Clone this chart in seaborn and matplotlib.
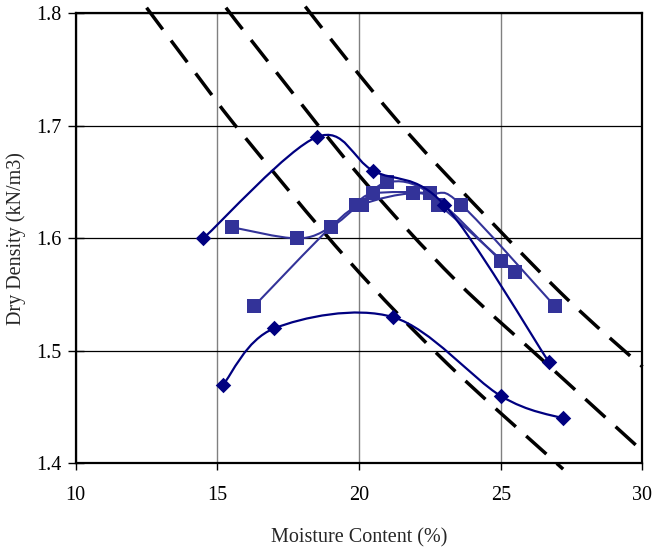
import numpy as np
import matplotlib
matplotlib.use('Agg')
import matplotlib.pyplot as plt
import seaborn as sns
from matplotlib.path import Path
from matplotlib.patches import PathPatch

# Verdichtingsproeven (diamanten, donkerblauw)
d1_w = [14.5, 18.5, 20.5, 23.0, 26.7]
d1_rho = [1.60, 1.69, 1.66, 1.63, 1.49]
d2_w = [15.2, 17.0, 21.2, 25.0, 27.2]
d2_rho = [1.47, 1.52, 1.53, 1.46, 1.44]

# Verdichtingsproeven (vierkanten)
s1_w = [15.5, 17.8, 19.0, 20.0, 21.0, 22.5, 25.0]
s1_rho = [1.61, 1.60, 1.61, 1.63, 1.65, 1.64, 1.58]
s2_w = [16.3, 19.0, 20.1, 21.9, 22.8, 25.5]
s2_rho = [1.54, 1.61, 1.63, 1.64, 1.63, 1.57]
s3_w = [19.9, 20.5, 22.5, 23.6, 26.9]
s3_rho = [1.63, 1.64, 1.64, 1.63, 1.54]

za_w = [12.5, 14.4, 15.9, 19.6, 23.1, 27.2]
za_rho = [1.805, 1.741, 1.692, 1.581, 1.489, 1.395]
zb_w = [15.3, 16.6, 20.0, 23.4, 26.6, 30.0]
zb_rho = [1.805, 1.763, 1.656, 1.563, 1.489, 1.411]
zc_w = [18.1, 19.6, 21.3, 23.1, 27.1, 30.0]
zc_rho = [1.806, 1.758, 1.706, 1.656, 1.552, 1.486]

x_ticks = [10, 15, 20, 25, 30]
y_ticks = [1.4, 1.5, 1.6, 1.7, 1.8]


def glad_pad(x, y):
    """Bouwt een vloeiend Bezier-pad door de punten (zoals Excel)."""
    p = np.column_stack([x, y]).astype(float)
    verts = [p[0]]
    codes = [Path.MOVETO]
    n = len(p)
    for i in range(n - 1):
        p0 = p[i - 1] if i > 0 else p[i]
        p3 = p[i + 2] if i + 2 < n else p[i + 1]
        c1 = p[i] + (p[i + 1] - p0) / 6
        c2 = p[i + 1] - (p3 - p[i]) / 6
        verts += [c1, c2, p[i + 1]]
        codes += [Path.CURVE4] * 3
    return Path(verts, codes)


sns.set_style('white')
plt.rcParams['font.family'] = ['Liberation Serif', 'DejaVu Serif']

fig = plt.figure(figsize=(6.54, 5.48), dpi=100)
ax = fig.add_axes([0.1158, 0.1542, 0.8666, 0.8215])

for w, r in [(za_w, za_rho), (zb_w, zb_rho), (zc_w, zc_rho)]:
    ax.add_patch(PathPatch(glad_pad(w, r), fill=False, edgecolor='black',
                           linewidth=2.5, linestyle=(0, (7.8, 4)),
                           capstyle='butt', clip_on=False, zorder=2))

navy = '#000080'
paars = '#333399'
for w, r in [(s1_w, s1_rho), (s2_w, s2_rho), (s3_w, s3_rho)]:
    ax.add_patch(PathPatch(glad_pad(w, r), fill=False, edgecolor=paars,
                           linewidth=1.5, zorder=3))
    sns.scatterplot(x=w, y=r, marker='s', s=92, color=paars,
                    edgecolor=paars, linewidth=0, ax=ax, zorder=4)
for w, r in [(d1_w, d1_rho), (d2_w, d2_rho)]:
    ax.add_patch(PathPatch(glad_pad(w, r), fill=False, edgecolor=navy,
                           linewidth=1.6, zorder=5))
    sns.scatterplot(x=w, y=r, marker='D', s=62, color=navy,
                    edgecolor=navy, linewidth=0, ax=ax, zorder=6)

ax.set_xlim(10, 30)
ax.set_ylim(1.4, 1.8)
ax.set_xticks(x_ticks)
ax.set_yticks(y_ticks)
ax.set_yticklabels([f'{v:.1f}' for v in y_ticks])
ax.grid(axis='x', color='#808080', linewidth=1.0)
ax.grid(axis='y', color='black', linewidth=0.9)
ax.set_axisbelow(True)
for s in ax.spines.values():
    s.set_color('black')
    s.set_linewidth(1.6)
    s.set_zorder(7)
ax.tick_params(axis='y', direction='inout', length=11, width=1, labelsize=14.5,
               pad=5, left=True, colors='black')
ax.tick_params(axis='x', direction='out', length=5, width=1, labelsize=14.5,
               pad=11, bottom=True, colors='black')

ax.set_xlabel('Moisture Content (%)', fontsize=14.5, labelpad=17)
ax.set_ylabel('Dry Density (kN/m3)', fontsize=14.5, labelpad=7)

fig.savefig('out.png', dpi=100)
